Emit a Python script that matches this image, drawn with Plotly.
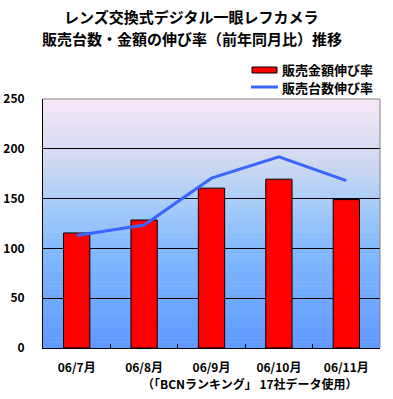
import plotly.graph_objects as go

categories = ["06/7月", "06/8月", "06/9月", "06/10月", "06/11月"]
sales_amount_growth = [115.5, 128.5, 160.5, 169.5, 149]
sales_units_growth = [113, 123.5, 170.5, 192, 168]
y_ticks = [0, 50, 100, 150, 200, 250]

title_lines = ["レンズ交換式デジタル一眼レフカメラ", "販売台数・金額の伸び率（前年同月比）推移"]
source_text = "（「BCNランキング」 17社データ使用）"
legend_names = ["販売金額伸び率", "販売台数伸び率"]
bar_color = "#FF0000"
line_color = "#3A66FF"

FONT = "Noto Sans CJK JP"
W, H = 393, 399
ML, MR, MT, MB = 43, 13, 99, 51
PW, PH = W - ML - MR, H - MT - MB

def px(x):
    return (x - ML) / PW

def py(y):
    return (H - MB - y) / PH

fig = go.Figure()
fig.add_trace(go.Bar(
    x=categories, y=sales_amount_growth, name=legend_names[0],
    marker=dict(color=bar_color, line=dict(color="#000000", width=1)),
    width=0.39, hoverinfo="skip",
))
fig.add_trace(go.Scatter(
    x=categories, y=sales_units_growth, name=legend_names[1], mode="lines",
    line=dict(color=line_color, width=3), hoverinfo="skip",
))

# gradient background bands
stops = [(0.0, (248, 232, 248)), (0.26, (206, 216, 240)), (0.42, (168, 204, 248)),
         (0.62, (128, 184, 255)), (1.0, (96, 153, 255))]

def col_at(t):
    for (t0, c0), (t1, c1) in zip(stops[:-1], stops[1:]):
        if t0 <= t <= t1:
            f = (t - t0) / (t1 - t0)
            return "rgb(%d,%d,%d)" % tuple(round(a + (b - a) * f) for a, b in zip(c0, c1))
    return "rgb(%d,%d,%d)" % stops[-1][1]

shapes = []
N = 80
for i in range(N):
    t = (i + 0.5) / N
    shapes.append(dict(type="rect", xref="x domain", yref="y domain",
                       x0=0, x1=1, y0=1 - (i + 1) / N, y1=min(1, 1 - i / N + 0.002),
                       fillcolor=col_at(t), line=dict(width=0), layer="below"))
# grey top/right frame
shapes.append(dict(type="line", xref="x domain", yref="y domain", x0=0, x1=1, y0=1, y1=1,
                   line=dict(color="#808080", width=1), layer="above"))
shapes.append(dict(type="line", xref="x domain", yref="y domain", x0=1, x1=1, y0=0, y1=1,
                   line=dict(color="#808080", width=1), layer="above"))

# custom legend (Excel style)
shapes.append(dict(type="rect", xref="paper", yref="paper",
                   x0=px(252), x1=px(277), y0=py(73), y1=py(67),
                   fillcolor=bar_color, line=dict(color="#000000", width=1)))
shapes.append(dict(type="line", xref="paper", yref="paper",
                   x0=px(251), x1=px(278), y0=py(87), y1=py(87),
                   line=dict(color=line_color, width=3)))

annotations = [
    dict(text="<b>" + legend_names[0] + "</b>", xref="paper", yref="paper",
         x=px(280), y=py(69), xanchor="left", yanchor="middle", showarrow=False,
         font=dict(family=FONT, size=13)),
    dict(text="<b>" + legend_names[1] + "</b>", xref="paper", yref="paper",
         x=px(280), y=py(88), xanchor="left", yanchor="middle", showarrow=False,
         font=dict(family=FONT, size=13)),
    dict(text="<b>" + source_text + "</b>", xref="paper", yref="paper",
         x=px(250), y=py(383), xanchor="center", yanchor="middle", showarrow=False,
         font=dict(family=FONT, size=12)),
    dict(text="<b>" + title_lines[0] + "</b>", xref="paper", yref="paper",
         x=px(191), y=py(17), xanchor="center", yanchor="middle", showarrow=False,
         font=dict(family=FONT, size=15)),
    dict(text="<b>" + title_lines[1] + "</b>", xref="paper", yref="paper",
         x=px(192), y=py(38), xanchor="center", yanchor="middle", showarrow=False,
         font=dict(family=FONT, size=15)),
]

fig.update_layout(
    width=W, height=H,
    margin=dict(l=ML, r=MR, t=MT, b=MB, autoexpand=False),
    paper_bgcolor="#FFFFFF", plot_bgcolor="#FFFFFF",
    font=dict(family=FONT, color="#000000", size=12),
    showlegend=False,
    hovermode=False,
    shapes=shapes,
    annotations=annotations,
)
fig.update_xaxes(
    automargin=False,
    showline=True, linecolor="#000000", linewidth=1,
    ticks="inside", tickson="boundaries", ticklen=4, tickcolor="#000000",
    showgrid=False, tickfont=dict(family=FONT, size=12, weight="bold"),
    ticklabelstandoff=9,
)
fig.update_yaxes(
    automargin=False,
    range=[0, 250], tickvals=y_ticks, showline=True, linecolor="#000000", linewidth=1,
    showgrid=True, gridcolor="#000000", gridwidth=1, zeroline=False,
    ticks="", tickfont=dict(family=FONT, size=12, weight="bold"),
    ticklabelstandoff=15,
)

fig.write_html("out.html",
               config={"displayModeBar": False, "staticPlot": True},
               post_script="document.body.style.margin='0';document.body.style.overflow='hidden';")
